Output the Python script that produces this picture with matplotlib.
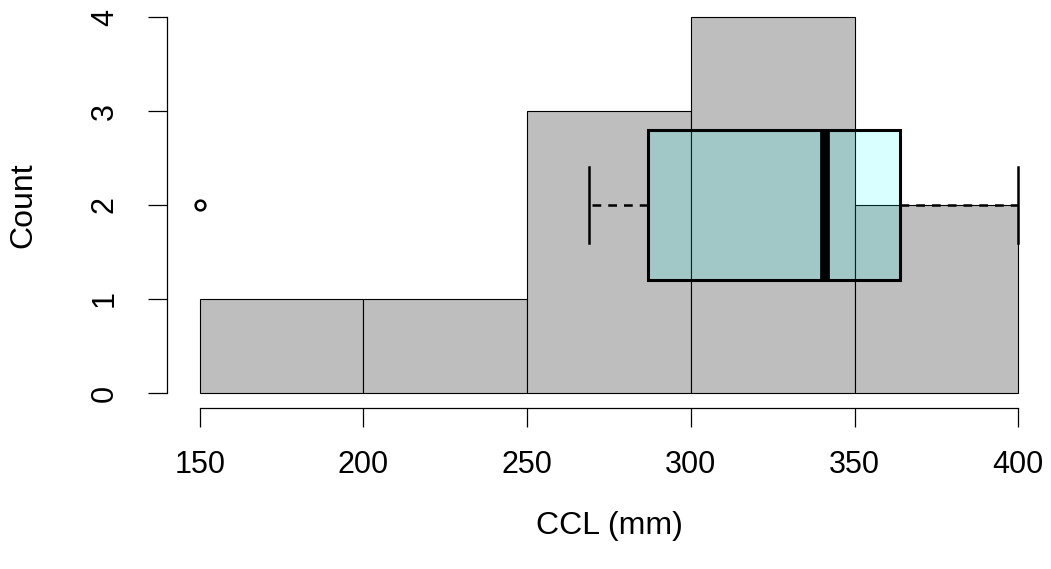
import numpy as np
import matplotlib
matplotlib.use('Agg')
import matplotlib.pyplot as plt

plt.rcParams['font.family'] = ['Liberation Sans', 'DejaVu Sans']

# histogram of CCL, 50 mm bins
bin_edges = [150, 200, 250, 300, 350, 400]
counts = [1, 1, 3, 4, 2]

# boxplot summary drawn on top of the histogram
box_stats = {'whislo': 269, 'q1': 287, 'med': 341, 'q3': 364, 'whishi': 400,
             'fliers': [150]}
box_y = 2
box_height = 1.6

x_ticks = [150, 200, 250, 300, 350, 400]
y_ticks = [0, 1, 2, 3, 4]

fig = plt.figure(figsize=(10.51, 5.69), dpi=100)
W, H = 1051, 569
ax = fig.add_axes([167 / W, (H - 408) / H, (W - 167) / W, 406 / H])

widths = np.diff(bin_edges)
ax.bar(bin_edges[:-1], counts, width=widths, align='edge',
       color='#bebebe', edgecolor='black', linewidth=0.8, zorder=1)

stats = [dict(box_stats, label='')]
bp = ax.bxp(stats, positions=[box_y], widths=box_height, vert=False,
            patch_artist=True, showfliers=True,
            boxprops=dict(facecolor=(0, 1, 1, 0.15), edgecolor='black', linewidth=2.2),
            medianprops=dict(color='black', linewidth=7, solid_capstyle='butt'),
            whiskerprops=dict(color='black', linewidth=1.8, linestyle=(0, (3.5, 2.8))),
            capprops=dict(color='black', linewidth=1.8),
            flierprops=dict(marker='o', markersize=7, markerfacecolor='none',
                            markeredgecolor='black', markeredgewidth=1.8),
            capwidths=box_height / 2, zorder=3)

ax.set_xlim(140, 410)
ax.set_ylim(-0.16, 4.16)

for s in ['top', 'right']:
    ax.spines[s].set_visible(False)
ax.spines['left'].set_bounds(0, 4)
ax.spines['bottom'].set_bounds(150, 400)
ax.spines['left'].set_linewidth(0.9)
ax.spines['bottom'].set_linewidth(0.9)

ax.set_xticks(x_ticks)
ax.set_xticklabels([str(t) for t in x_ticks])
ax.set_yticks(y_ticks)
ax.set_yticklabels([str(t) for t in y_ticks], rotation=90, va='center')
ax.tick_params(axis='both', length=14, width=0.9, labelsize=22)
ax.tick_params(axis='x', pad=16)
ax.tick_params(axis='y', pad=20)

ax.set_xlabel('CCL (mm)', fontsize=23, va='top')
ax.xaxis.set_label_coords(0.5, -0.254)
ax.set_ylabel('Count', fontsize=23)
ax.yaxis.set_label_coords(-0.145, 0.5)

fig.savefig('out.png', dpi=100)
